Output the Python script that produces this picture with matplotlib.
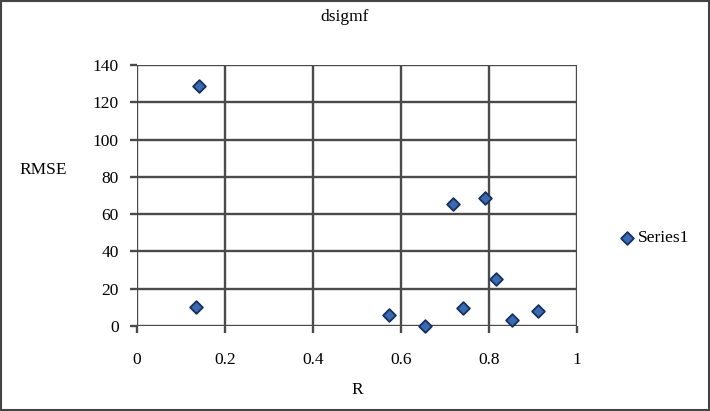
import matplotlib.pyplot as plt
from matplotlib.patches import Rectangle

# data
r_vals = [0.141, 0.134, 0.573, 0.655, 0.719, 0.740, 0.792, 0.815, 0.853, 0.911]
rmse_vals = [128.7, 10.3, 6.1, 0.0, 65.4, 9.7, 68.7, 25.1, 3.4, 8.1]
x_ticks = [0, 0.2, 0.4, 0.6, 0.8, 1]
x_labels = ['0', '0.2', '0.4', '0.6', '0.8', '1']
y_ticks = [0, 20, 40, 60, 80, 100, 120, 140]

plt.rcParams['font.family'] = ['Liberation Serif', 'DejaVu Serif']

fig = plt.figure(figsize=(7.1, 4.11), dpi=100)
ax = fig.add_axes([137/710, 1-326/411, 440/710, 261/411])

ax.scatter(r_vals, rmse_vals, marker='D', s=42, facecolor='#3a6bb2',
           edgecolor='#172f5c', linewidth=1.3, zorder=3, label='Series1',
           clip_on=False)

ax.set_xlim(0, 1)
ax.set_ylim(0, 140)
ax.set_xticks(x_ticks)
ax.set_xticklabels(x_labels)
ax.set_yticks(y_ticks)
ax.grid(True, color='#4a4a4a', linewidth=1.7)
ax.set_axisbelow(True)
for s in ax.spines.values():
    s.set_visible(False)
ax.tick_params(axis='both', length=5, width=1.7, color='#4a4a4a',
               labelsize=12.5, pad=8)
ax.tick_params(axis='x', pad=14)

fig.text(345/710, 1-17/411, 'dsigmf', ha='center', va='center', fontsize=12.5)
fig.text(43/710, 1-170/411, 'RMSE', ha='center', va='center', fontsize=12.5)
fig.text(357/710, 1-390/411, 'R', ha='center', va='center', fontsize=12.5)

ax.legend(loc='center left', bbox_to_anchor=(608/710, 1-238/411),
          bbox_transform=fig.transFigure, frameon=False, fontsize=12.5,
          handletextpad=0.0, handlelength=1.2, borderpad=0)

fig.patches.append(Rectangle((0.002, 0.003), 0.996, 0.994, transform=fig.transFigure,
                             fill=False, edgecolor='#444444', linewidth=1.5))

fig.savefig('out.png', dpi=100)
